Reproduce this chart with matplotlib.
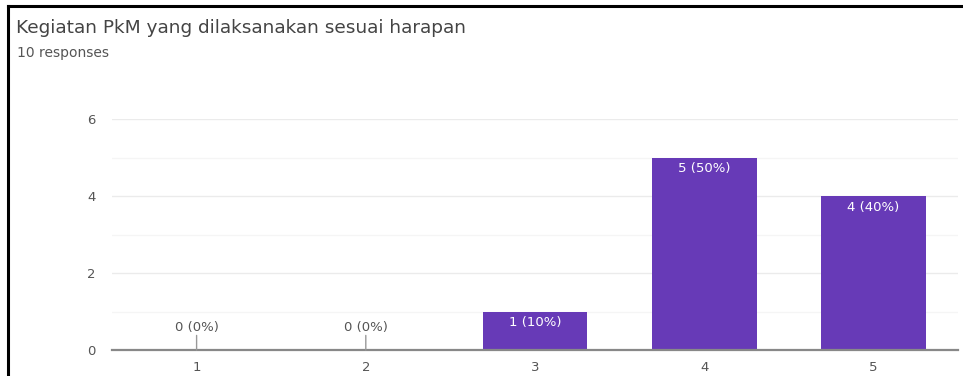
import matplotlib
matplotlib.use("Agg")
import matplotlib.pyplot as plt
from matplotlib.lines import Line2D

title = "Kegiatan PkM yang dilaksanakan sesuai harapan"
subtitle = "10 responses"
categories = ["1", "2", "3", "4", "5"]
counts = [0, 0, 1, 5, 4]
total = 10
yticks = [0, 2, 4, 6]

W, H = 963, 376
fig = plt.figure(figsize=(W / 100, H / 100), dpi=100)
fig.patch.set_facecolor("white")

# axes placement in pixel terms
x0, x1 = 112, 958
y0, y1 = 350, 119
ax = fig.add_axes([x0 / W, 1 - y0 / H, (x1 - x0) / W, (y0 - y1) / H])

xs = list(range(1, len(categories) + 1))
purple = "#673ab7"
ax.bar(xs, counts, width=0.62, color=purple, zorder=3)
ax.set_xlim(0.5, 5.5)
ax.set_ylim(0, 6)
ax.set_yticks(yticks)
ax.set_yticks([1, 3, 5], minor=True)
ax.set_xticks(xs)
ax.set_xticklabels(categories)
ax.tick_params(axis="both", length=0, labelsize=9.5, labelcolor="#555555")
ax.tick_params(axis="y", which="minor", length=0)
ax.tick_params(axis="y", pad=12)
ax.tick_params(axis="x", pad=8)
ax.grid(axis="y", which="major", color="#ebebeb", linewidth=1, zorder=0)
ax.grid(axis="y", which="minor", color="#f5f5f5", linewidth=1, zorder=0)
for s in ["top", "right", "left"]:
    ax.spines[s].set_visible(False)
ax.spines["bottom"].set_color("#888888")
ax.spines["bottom"].set_linewidth(1.6)
ax.spines["bottom"].set_zorder(4)

for x, c in zip(xs, counts):
    lab = f"{c} ({round(100 * c / total)}%)"
    if c > 0:
        ax.annotate(lab, (x, c), xytext=(0, -3.5), textcoords="offset points",
                    ha="center", va="top", color="white", fontsize=9.5, zorder=5)
    else:
        ax.annotate("", (x, 0), xytext=(0, 10.5), textcoords="offset points",
                    arrowprops=dict(arrowstyle="-", color="#999999", lw=1,
                                    shrinkA=0, shrinkB=0), zorder=5)
        ax.annotate(lab, (x, 0), xytext=(0, 11.5), textcoords="offset points",
                    ha="center", va="bottom", color="#555555", fontsize=9.5, zorder=5)

fig.text(16 / W, 1 - 28 / H, title, fontsize=13.3, color="#444444", va="center", ha="left")
fig.text(17 / W, 1 - 53 / H, subtitle, fontsize=10, color="#555555", va="center", ha="left")

# black frame lines (top and left)
fig.add_artist(Line2D([8 / W, 1], [1 - 6 / H, 1 - 6 / H], transform=fig.transFigure,
                      color="black", linewidth=2.2))
fig.add_artist(Line2D([8 / W, 8 / W], [0, 1 - 6 / H], transform=fig.transFigure,
                      color="black", linewidth=2.2))

fig.savefig("out.png", dpi=100, facecolor="white")
